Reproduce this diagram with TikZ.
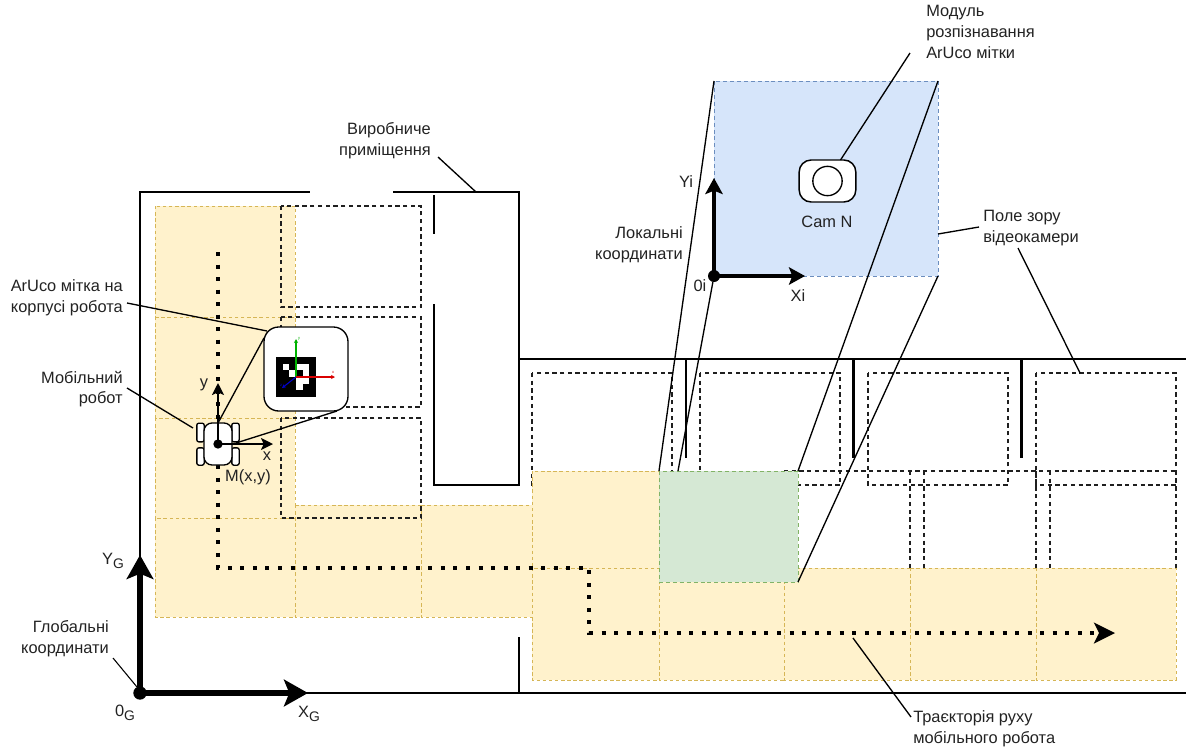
\documentclass[tikz,border=0pt]{standalone}
\usepackage{fontspec}
\setmainfont{Liberation Sans}
\usetikzlibrary{arrows.meta,positioning}
\definecolor{cell}{HTML}{FFF2CC}
\definecolor{cellline}{HTML}{D6B656}
\definecolor{view}{HTML}{D6E5FA}
\definecolor{viewline}{HTML}{6C8EBF}
\definecolor{seen}{HTML}{D5E8D4}
\definecolor{seenline}{HTML}{82B366}
\definecolor{label}{HTML}{222222}
\newcommand{\axisG}{\raisebox{-0.4ex}{\fontsize{10.4}{10}\selectfont G}}
\tikzset{
  wall/.style={line width=2.2pt,line cap=rect},
  zone/.style={line width=0.95pt,dash pattern=on 3.2pt off 2.6pt,black!88},
  cellbox/.style={fill=cell,draw=cellline,line width=0.55pt,dash pattern=on 2.6pt off 2pt},
  leader/.style={line width=1pt,black},
  txt/.style={font=\fontsize{12.3}{15.5}\selectfont,text=label,inner sep=0pt},
  bigaxis/.style={line width=3.9pt,-{Stealth[length=18pt,width=20pt,inset=4pt]}},
  midaxis/.style={line width=2.4pt,-{Stealth[length=12pt,width=13pt,inset=2.5pt]}},
  smallaxis/.style={line width=1.3pt,-{Stealth[length=9pt,width=9pt,inset=2pt]}},
  route/.style={line width=3pt,dash pattern=on 3pt off 6.4pt},
  wheel/.style={draw,fill=white,line width=1pt,rounded corners=1.5pt},
  dotmark/.style={circle,fill=black,inner sep=0pt},
}
\begin{document}
\begin{tikzpicture}[x=0.75pt,y=-0.75pt]
  \useasboundingbox (0,0) rectangle (1186,751);

  % Zones of the long room, under the cells
  \draw[zone] (532,373) rectangle (672,485);
  \draw[zone] (700,373) rectangle (840,485);
  \draw[zone] (868,373) rectangle (1008,485);
  \draw[zone] (1036,373) rectangle (1176,485);
  \draw[zone] (784,471) -- (1176,471);
  \foreach \zoneside in {910,924,1036,1050,1176}
    \draw[zone] (\zoneside,471) -- (\zoneside,568);

  % Cells the robot passes through
  \foreach \top/\bottom in {206/317,317/418,418/518,518/617}
    \draw[cellbox] (155,\top) rectangle (295,\bottom);
  \draw[cellbox] (295,505) rectangle (421,617);
  \draw[cellbox] (421,505) rectangle (547,617);
  \draw[cellbox] (532,471) rectangle (659,568);
  \foreach \left/\right in {532/659,659/784,784/910,910/1036,1036/1176}
    \draw[cellbox] (\left,568) rectangle (\right,680);

  % Zones of the first room
  \draw[zone] (281,206) rectangle (421,307);
  \draw[zone] (281,317) rectangle (421,407);
  \draw[zone] (281,418) rectangle (421,518);

  % Field of view and its footprint
  \draw[fill=view,draw=viewline,line width=0.7pt,dash pattern=on 3pt off 2.2pt] (714,81) rectangle (938,276);
  \draw[fill=seen,draw=seenline,line width=0.7pt,dash pattern=on 3pt off 2.2pt] (659,471) rectangle (798,582);

  % Walls
  \draw[wall] (309,192) -- (140,192) -- (140,693) -- (1186,693);
  \draw[wall] (394,192) -- (519,192) -- (519,485) -- (434,485) -- (434,305);
  \draw[wall] (434,196) -- (434,233);
  \draw[wall] (519,359) -- (1186,359);
  \draw[wall] (519,638) -- (519,693);
  \draw[wall] (686,359) -- (686,457);
  \draw[wall] (853.5,359) -- (853.5,457);
  \draw[wall] (1021.5,359) -- (1021.5,457);

  % Robot route
  \coordinate (routeStart) at (218,252);
  \coordinate (routeTurnA) at (218,568);
  \coordinate (routeTurnB) at (589,568);
  \coordinate (routeTurnC) at (589,633);
  \coordinate (routeEnd) at (1115,633);
  \draw[route] (routeStart) -- (routeTurnA) -- (routeTurnB) -- (routeTurnC) -- (routeEnd);
  \draw[line width=0pt,-{Stealth[length=16pt,width=16pt,inset=4pt]}] (1100,633) -- (routeEnd);

  % Corners of the field of view
  \coordinate (viewNW) at (714,81);
  \coordinate (viewNE) at (938,81);
  \coordinate (viewSE) at (938,276);
  \coordinate (seenNW) at (659,471);
  \coordinate (seenNE) at (798,471);
  \coordinate (seenSE) at (798,582);
  \coordinate (seenIn) at (678,471);
  \draw[leader] (viewNW) -- (seenNW);
  \draw[leader] (viewNE) -- (seenNE);
  \draw[leader] (viewSE) -- (seenSE);

  % Camera
  \node[draw,fill=white,line width=1.1pt,rounded corners=9pt,minimum width=42.5pt,minimum height=31.5pt,inner sep=0pt] (camBody) at (827.5,181) {};
  \node[draw,circle,line width=1pt,minimum size=22pt,inner sep=0pt] (camLens) at (827.5,181) {};
  \node[txt] (camName) at (827,222) {Cam N};

  % Local axes
  \node[dotmark,minimum size=9pt] (localO) at (714,276) {};
  \coordinate (localY) at (714,178);
  \coordinate (localX) at (805,276);
  \draw[leader] (localO) -- (seenIn);
  \draw[midaxis] (localO.center) -- (localY);
  \draw[midaxis] (localO.center) -- (localX);
  \node[txt] (localYName) at (686,182) {Yi};
  \node[txt] (localXName) at (798,296) {Xi};
  \node[txt] (localOName) at (700,286) {0i};

  % Global axes
  \node[dotmark,minimum size=10pt] (globalO) at (140,693) {};
  \coordinate (globalY) at (140,555);
  \coordinate (globalX) at (308,693);
  \draw[bigaxis] (globalO.center) -- (globalY);
  \draw[bigaxis] (globalO.center) -- (globalX);
  \node[txt] (globalYName) at (113,561) {Y\axisG};
  \node[txt] (globalXName) at (309,714) {X\axisG};
  \node[txt] (globalOName) at (125,713) {0\axisG};

  % Robot
  \node[wheel,minimum width=5.5pt,minimum height=14pt,inner sep=0pt] (wheelA) at (200.5,432.5) {};
  \node[wheel,minimum width=5.5pt,minimum height=13pt,inner sep=0pt] (wheelB) at (200.5,456.5) {};
  \node[wheel,minimum width=5.5pt,minimum height=14pt,inner sep=0pt] (wheelC) at (235.5,432.5) {};
  \node[wheel,minimum width=5.5pt,minimum height=13pt,inner sep=0pt] (wheelD) at (235.5,456.5) {};
  \node[draw,fill=white,line width=1pt,rounded corners=6pt,minimum width=21pt,minimum height=31.5pt,inner sep=0pt] (robotBody) at (218,444) {};
  \node[dotmark,minimum size=7pt] (robotO) at (218,444) {};
  \coordinate (robotY) at (218,383);
  \coordinate (robotX) at (273,444);
  \draw[smallaxis] (robotO.center) -- (robotY);
  \draw[smallaxis] (robotO.center) -- (robotX);
  \node[txt] (robotYName) at (204,385) {y};
  \node[txt] (robotXName) at (267,456) {x};
  \node[txt] (robotPos) at (248,477) {M(x,y)};

  % Marker callout
  \coordinate (robotTop) at (218,423);
  \coordinate (robotRight) at (236,443);
  \node[draw,fill=white,line width=1pt,rounded corners=11pt,minimum width=63pt,minimum height=63pt,inner sep=0pt] (markerBox) at (306,369) {};
  \coordinate (markerLeft) at (264,338);
  \coordinate (markerBottom) at (337,411);
  \draw[leader] (robotTop) -- (markerLeft);
  \draw[leader] (robotRight) -- (markerBottom);
  \node[fill=black,minimum size=30pt,inner sep=0pt] (markerTag) at (296,377) {};
  \foreach \col/\row in {1/1,3/1,4/1,2/2,4/2,3/3,4/3,3/4}
    \fill[white] (276+\col*6.67,357+\row*6.67) rectangle ++(6.67,6.67);
  \draw[line width=0.8pt,green!70!black,-{Stealth[length=3pt,width=3pt]}] (markerTag.center) -- ++(0,-38);
  \draw[line width=0.8pt,red!85!black,-{Stealth[length=3pt,width=3pt]}] (markerTag.center) -- ++(39,0);
  \draw[line width=0.8pt,blue!80!black,-{Stealth[length=3pt,width=3pt]}] (markerTag.center) -- ++(-14,11);
  \node[font=\fontsize{3}{3}\selectfont,text=green!70!black,inner sep=0pt] (markerYName) at (299,339) {y};
  \node[font=\fontsize{3}{3}\selectfont,text=red!85!black,inner sep=0pt] (markerXName) at (333,372) {x};
  \node[font=\fontsize{3}{3}\selectfont,text=blue!80!black,inner sep=0pt] (markerZName) at (281,385) {z};

  % Labels
  \node[txt,align=left,anchor=west] (camLabel) at (926,32) {Модуль\\розпізнавання\\ArUco мітки};
  \node[txt,align=right,anchor=east] (roomLabel) at (431,140.5) {Виробниче\\приміщення};
  \node[txt,align=right,anchor=east] (localLabel) at (683,245) {Локальні\\координати};
  \node[txt,align=left,anchor=west] (viewLabel) at (983,228) {Поле зору\\відеокамери};
  \node[txt,align=right,anchor=east] (markerLabel) at (123,298) {ArUco мітка на\\корпусі робота};
  \node[txt,align=right,anchor=east] (robotLabel) at (123,389) {Мобільний\\робот};
  \node[txt,align=right,anchor=east] (globalLabel) at (109,638.5) {Глобальні\\координати};
  \node[txt,align=left,anchor=west] (routeLabel) at (913,729) {Траєкторія руху\\мобільного робота};

  % Leaders from the labels
  \coordinate (camTo) at (840.5,160);
  \coordinate (camFrom) at (910,53);
  \draw[leader] (camFrom) -- (camTo);
  \coordinate (roomFrom) at (438,157);
  \coordinate (roomTo) at (476,192);
  \draw[leader] (roomFrom) -- (roomTo);
  \coordinate (viewFromA) at (979,227);
  \coordinate (viewToA) at (938,234);
  \draw[leader] (viewFromA) -- (viewToA);
  \coordinate (viewFromB) at (1018,248);
  \coordinate (viewToB) at (1080,373);
  \draw[leader] (viewFromB) -- (viewToB);
  \coordinate (markerFrom) at (127,303);
  \coordinate (markerTo) at (267,331);
  \draw[leader] (markerFrom) -- (markerTo);
  \coordinate (robotFrom) at (127,388);
  \coordinate (robotTo) at (193,428);
  \draw[leader] (robotFrom) -- (robotTo);
  \coordinate (globalFrom) at (113,658);
  \coordinate (globalTo) at (137,687);
  \draw[line width=0.8pt] (globalFrom) -- (globalTo);
  \coordinate (routeFrom) at (911,717);
  \coordinate (routeTo) at (853,638);
  \draw[leader] (routeFrom) -- (routeTo);
\end{tikzpicture}
\end{document}
